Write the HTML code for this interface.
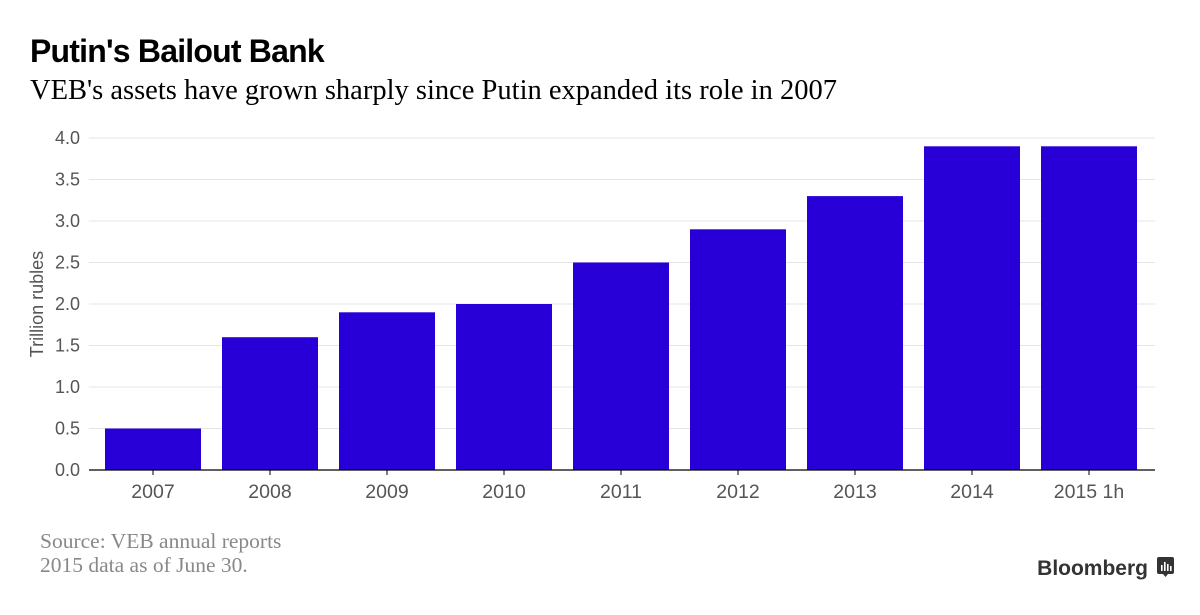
<!DOCTYPE html>
<html><head><meta charset="utf-8"><style>
body{margin:0;background:#fff;width:1200px;height:610px;overflow:hidden;font-family:"Liberation Sans",sans-serif}
</style></head><body>
<svg width="1200" height="610">
<text x="30" y="62" font-size="32" font-weight="bold" fill="#000" style="letter-spacing:-0.8px">Putin's Bailout Bank</text>
<text x="30" y="99" font-size="28.5" font-family="Liberation Serif,serif" fill="#000">VEB's assets have grown sharply since Putin expanded its role in 2007</text>
<g id="grid"></g><g id="bars"></g><g id="axes"></g>
<text transform="translate(43,304) rotate(-90)" text-anchor="middle" font-size="18" fill="#555">Trillion rubles</text>
<text x="40" y="548" font-size="21.5" font-family="Liberation Serif,serif" fill="#888">Source: VEB annual reports</text>
<text x="40" y="572" font-size="21.5" font-family="Liberation Serif,serif" fill="#888">2015 data as of June 30.</text>
<text x="1148" y="575" text-anchor="end" font-size="21" font-weight="bold" fill="#333">Bloomberg</text>
<g><rect x="1157" y="557" width="17" height="17" rx="2" fill="#333"/><path d="M1163 574 l2.5 3 l2.5 -3z" fill="#333"/><rect x="1161" y="565" width="1.6" height="6" fill="#fff"/><rect x="1164" y="562" width="1.6" height="9" fill="#fff"/><rect x="1167" y="564" width="1.6" height="7" fill="#fff"/><rect x="1170" y="566" width="1.6" height="5" fill="#fff"/></g>
</svg>
<script>
const categories=["2007","2008","2009","2010","2011","2012","2013","2014","2015 1h"];
const values=[0.5,1.6,1.9,2.0,2.5,2.9,3.3,3.9,3.9];
const yTicks=[0,0.5,1,1.5,2,2.5,3,3.5,4];
const NS="http://www.w3.org/2000/svg";
const x0=89,x1=1155,y0=470,y1=138,yMax=4;
const y=v=>y0-(y0-y1)*v/yMax;
const band=117, bw=96, firstC=153;
const cx=i=>firstC+band*i;
function mk(t,a,p){const e=document.createElementNS(NS,t);for(const k in a)e.setAttribute(k,a[k]);document.getElementById(p).appendChild(e);return e;}
yTicks.forEach(t=>{
 if(t>0){const l=mk('line',{x1:x0,x2:x1,y1:y(t),y2:y(t),stroke:'#e4e4ea','stroke-width':1},'grid');
 
 }
 const tx=mk('text',{x:80,y:y(t)+6,'text-anchor':'end','font-size':18,fill:'#555'},'axes');
 tx.textContent=t.toFixed(1);
 
 
});
values.forEach((v,i)=>{
 const r=mk('rect',{x:cx(i)-bw/2,y:y(v),width:bw,height:y0-y(v),fill:'#2800d7'},'bars');
 
 
 const tk=mk('line',{x1:cx(i),x2:cx(i),y1:y0,y2:y0+5,stroke:'#000'},'axes');
 
 
 const tx=mk('text',{x:cx(i),y:498,'text-anchor':'middle','font-size':19.5,fill:'#555'},'axes');
 tx.textContent=categories[i];
 
 
});
const ax=mk('line',{x1:x0,x2:x1,y1:y0,y2:y0,stroke:'#000','stroke-width':1.2},'axes');


</script>
</body></html>
